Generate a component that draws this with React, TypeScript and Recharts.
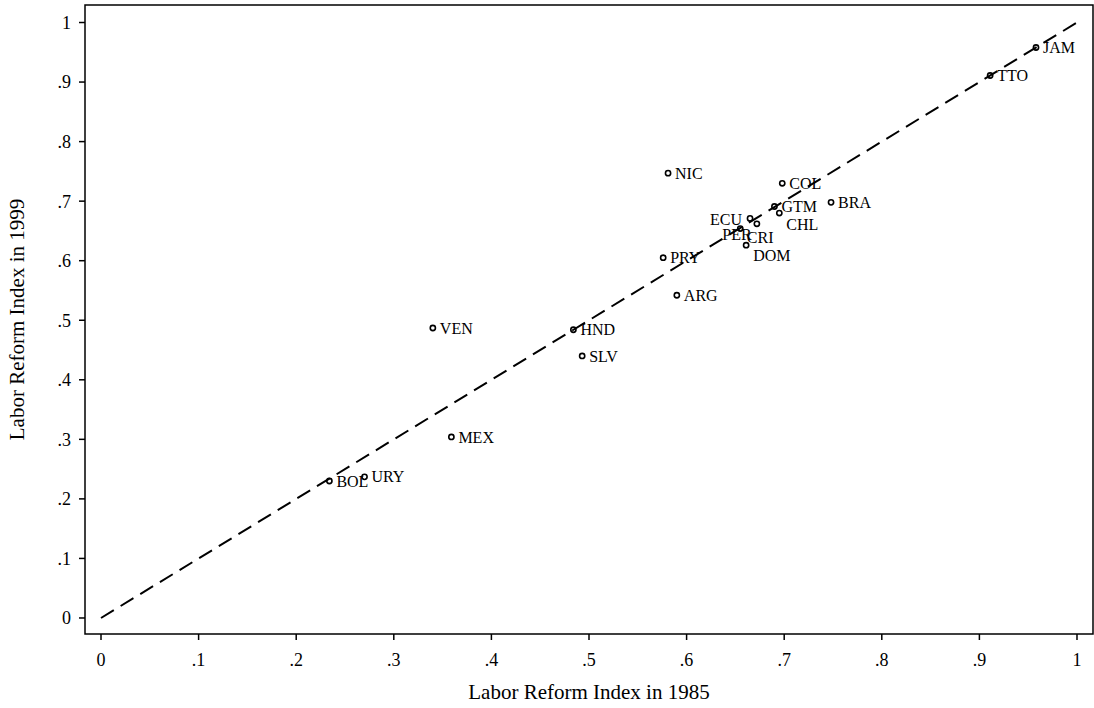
import { ScatterChart, Scatter, XAxis, YAxis, ReferenceLine, ReferenceArea } from 'recharts';

const countries = ["JAM", "TTO", "NIC", "COL", "BRA", "GTM", "CHL", "ECU", "CRI", "PER", "DOM", "PRY", "ARG", "VEN", "HND", "SLV", "MEX", "URY", "BOL"];
const index1985 = [0.958, 0.911, 0.581, 0.698, 0.748, 0.690, 0.695, 0.665, 0.672, 0.655, 0.661, 0.576, 0.590, 0.340, 0.484, 0.493, 0.359, 0.270, 0.234];
const index1999 = [0.958, 0.911, 0.747, 0.730, 0.698, 0.691, 0.680, 0.671, 0.662, 0.654, 0.626, 0.605, 0.542, 0.487, 0.484, 0.440, 0.304, 0.237, 0.230];

const ticks = [0, 0.1, 0.2, 0.3, 0.4, 0.5, 0.6, 0.7, 0.8, 0.9, 1];
const fitLine = [{ x: 0, y: 0 }, { x: 1, y: 1 }];

const X_DOMAIN: [number, number] = [-0.0164, 1.0164];
const Y_DOMAIN: [number, number] = [-0.0269, 1.0294];

const FONT = '"Liberation Serif", "Times New Roman", serif';

// label placement for the crowded points (others sit to the right of the marker)
const labelOffsets: Record<string, { dx: number; dy: number; anchor?: string }> = {
  ECU: { dx: -8, dy: 1, anchor: 'end' },
  PER: { dx: -18, dy: 6 },
  CRI: { dx: -10, dy: 14 },
  CHL: { dx: 7, dy: 11 },
  DOM: { dx: 7, dy: 10 },
};

const fmt = (v: number) => {
  if (v === 0) return '0';
  if (v === 1) return '1';
  return '.' + Math.round(v * 10);
};

const data = countries.map((name, i) => ({ name, x: index1985[i], y: index1999[i] }));

// hollow marker with the country code beside it
const Marker = (props: any) => {
  const { cx, cy, payload } = props;
  const off = labelOffsets[payload.name] || { dx: 7, dy: 0 };
  return (
    <g>
      <circle cx={cx} cy={cy} r={2.6} fill="none" stroke="#000" strokeWidth={1.6} />
      <text
        x={cx + off.dx} y={cy + off.dy} dy="0.35em" textAnchor={off.anchor || 'start'}
        fontSize={16} fontFamily={FONT} fill="#000"
      >
        {payload.name}
      </text>
    </g>
  );
};

export default function App() {
  return (
    <div style={{ position: 'absolute', left: 0, top: 0, width: 1094, height: 708, background: '#fff' }}>
      <ScatterChart width={1094} height={708} margin={{ top: 5, right: 1, bottom: 0, left: 0 }}>
        <ReferenceArea
          x1={X_DOMAIN[0]} x2={X_DOMAIN[1]} y1={Y_DOMAIN[0]} y2={Y_DOMAIN[1]}
          fill="none" stroke="#000" strokeWidth={1.5} ifOverflow="visible"
        />
        <XAxis
          type="number" dataKey="x" domain={X_DOMAIN} ticks={ticks} tickFormatter={fmt}
          height={74} axisLine={false} tickSize={6} tickMargin={13}
          tickLine={{ stroke: '#000', strokeWidth: 1.5 }}
          tick={{ fill: '#000', fontSize: 18, fontFamily: FONT }}
          allowDataOverflow
          label={{
            content: (p: any) => {
              const vb = p.viewBox;
              return (
                <text x={vb.x + vb.width / 2} y={vb.y + 65} textAnchor="middle" fontSize={21} fontFamily={FONT} fill="#000">
                  Labor Reform Index in 1985
                </text>
              );
            },
          }}
        />
        <YAxis
          type="number" dataKey="y" domain={Y_DOMAIN} ticks={ticks} tickFormatter={fmt}
          width={85} axisLine={false} tickSize={6} tickMargin={8}
          tickLine={{ stroke: '#000', strokeWidth: 1.5 }}
          tick={{ fill: '#000', fontSize: 18, fontFamily: FONT }}
          allowDataOverflow
          label={{
            content: (p: any) => {
              const vb = p.viewBox;
              const cx = vb.x + 24;
              const cy = vb.y + vb.height / 2;
              return (
                <text x={cx} y={cy} transform={`rotate(-90 ${cx} ${cy})`} textAnchor="middle" fontSize={21} fontFamily={FONT} fill="#000">
                  Labor Reform Index in 1999
                </text>
              );
            },
          }}
        />
        <ReferenceLine
          segment={fitLine}
          stroke="#000" strokeWidth={2} strokeDasharray="15 8" ifOverflow="visible"
        />
        <Scatter data={data} shape={Marker} isAnimationActive={false} />
      </ScatterChart>
    </div>
  );
}
